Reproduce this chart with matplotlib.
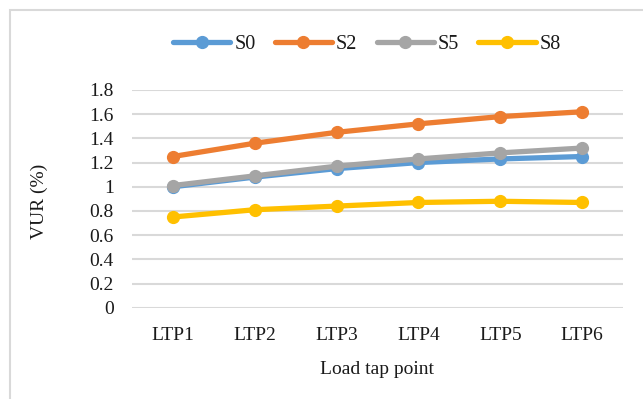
import matplotlib
matplotlib.use("Agg")
import matplotlib.pyplot as plt
from matplotlib.patches import Rectangle

plt.rcParams['font.family'] = ['Liberation Serif', 'DejaVu Serif']

categories = ["LTP1", "LTP2", "LTP3", "LTP4", "LTP5", "LTP6"]
s0 = [1.00, 1.08, 1.15, 1.20, 1.23, 1.25]
s2 = [1.25, 1.36, 1.45, 1.52, 1.58, 1.62]
s5 = [1.01, 1.09, 1.17, 1.23, 1.28, 1.32]
s8 = [0.75, 0.81, 0.84, 0.87, 0.88, 0.87]
y_ticks = [0, 0.2, 0.4, 0.6, 0.8, 1, 1.2, 1.4, 1.6, 1.8]
y_tick_labels = ["0", "0.2", "0.4", "0.6", "0.8", "1", "1.2", "1.4", "1.6", "1.8"]

series = [("S0", s0, "#5B9BD5"), ("S2", s2, "#ED7D31"),
          ("S5", s5, "#A5A5A5"), ("S8", s8, "#FFC000")]

TEXT = "#1A1A1A"
W, H = 643, 399
fig = plt.figure(figsize=(W / 100, H / 100), dpi=100)
fig.patch.set_facecolor("white")

# light frame around the chart area
fig.patches.append(Rectangle((10 / W, -0.1), 1.2, 1 - 10 / H + 0.1,
                             transform=fig.transFigure, fill=False,
                             edgecolor="#D9D9D9", linewidth=1.5))

ax = fig.add_axes([132 / W, (H - 307.7) / H, 491 / W, 217.7 / H])
x = list(range(len(categories)))
for name, vals, color in series:
    ax.plot(x, vals, color=color, linewidth=3.8, marker="o",
            markersize=8.5, label=name, solid_capstyle="round")

ax.set_xlim(-0.5, len(categories) - 0.5)
ax.set_ylim(0, 1.8)
ax.set_yticks(y_ticks)
ax.set_yticklabels(y_tick_labels)
ax.set_xticks(x)
ax.set_xticklabels(categories)
ax.tick_params(axis="both", length=0, labelsize=14, colors=TEXT)
ax.tick_params(axis="y", pad=13)
ax.tick_params(axis="x", pad=14)
ax.grid(axis="y", color="#D9D9D9", linewidth=1.5)
ax.set_axisbelow(True)
for sp in ax.spines.values():
    sp.set_visible(False)

ax.set_ylabel("VUR (%)", fontsize=14, color=TEXT)
ax.yaxis.set_label_coords((39 - 132) / 491, 0.49)
ax.set_xlabel("Load tap point", fontsize=14, color=TEXT)
ax.xaxis.set_label_coords(0.5, (307.7 - 370) / 217.7)
ax.xaxis.label.set_verticalalignment("center")
ax.yaxis.label.set_verticalalignment("center")

leg = fig.legend(loc="center", bbox_to_anchor=(367 / W, 1 - 44 / H), ncol=4,
                 frameon=False, fontsize=14.5, handlelength=2.85,
                 handletextpad=0.2, columnspacing=0.95)
for t in leg.get_texts():
    t.set_color(TEXT)

fig.savefig("out.png", dpi=100)
